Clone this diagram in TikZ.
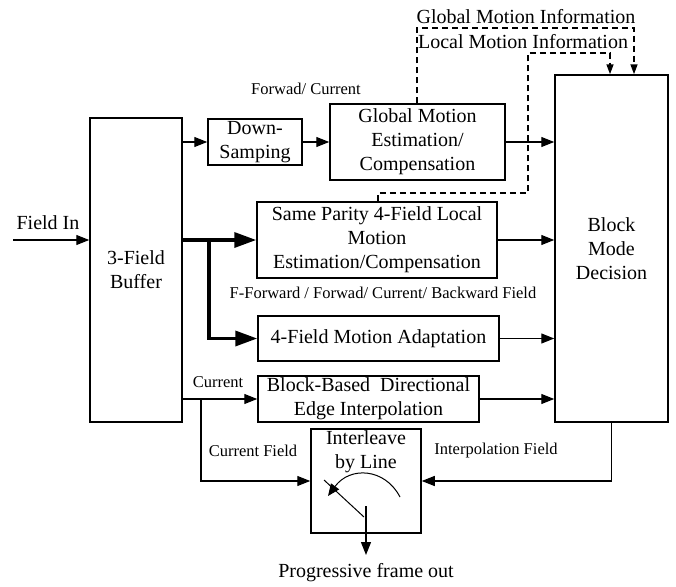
\documentclass[tikz,border=0pt]{standalone}
\usepackage{fontspec}
\setmainfont{Liberation Serif}
\usetikzlibrary{arrows.meta,calc}
\begin{document}
\begin{tikzpicture}[x=1pt,y=-1pt,
  box/.style={draw,line width=1.5pt,inner sep=0pt,align=center,font=\fontsize{20}{24}\selectfont},
  lbl/.style={inner sep=0pt,font=\fontsize{16.5}{20}\selectfont},
  biglbl/.style={inner sep=0pt,align=center,font=\fontsize{20}{24}\selectfont},
  arr/.style={line width=1.3pt,-{Triangle[length=13pt,width=10pt]}},
  thickarr/.style={line width=3.5pt,-{Triangle[length=22pt,width=15pt]}},
  dasharr/.style={line width=1.5pt,dash pattern=on 6pt off 4pt,-{Triangle[length=10pt,width=7pt]}},
]
\useasboundingbox (0,0) rectangle (676,586);

% boxes
\node[box,minimum width=92pt,minimum height=304pt] (buf) at (136,270) {3-Field\\Buffer};
\node[box,minimum width=94pt,minimum height=46pt] (down) at (255,142) {Down-\\Samping};
\node[box,minimum width=175pt,minimum height=76pt] (gme) at (417.5,142) {Global Motion\\Estimation/\\Compensation};
\node[box,minimum width=113pt,minimum height=347pt] (bmd) at (611.5,248.5) {Block\\Mode\\Decision};
\node[box,minimum width=240pt,minimum height=76pt] (sp) at (377,240) {Same Parity 4-Field Local\\Motion\\Estimation/Compensation};
\node[box,minimum width=241pt,minimum height=45pt] (fm) at (378.5,338.5) {4-Field Motion Adaptation};
\node[box,minimum width=221pt,minimum height=46pt] (bb) at (368.5,399) {Block-Based\ \ Directional\\Edge Interpolation};
\node[box,minimum width=110pt,minimum height=104pt] (il) at (366,481) {};
\node[biglbl] (iltext) at (366,452) {Interleave\\by Line};

% labels
\node[biglbl] (fieldin) at (48,223) {Field In};
\node[lbl] (fwdcur) at (306,89) {Forwad/ Current};
\node[lbl] (ffwd) at (383,293) {F-Forward / Forwad/ Current/ Backward Field};
\node[lbl] (cur) at (218,382) {Current};
\node[lbl] (curfield) at (253,451) {Current Field};
\node[lbl] (intfield) at (496,451) {Interpolation Field};
\node[biglbl] (prog) at (366,573) {Progressive frame out};
\node[biglbl] (gmi) at (526,17) {Global Motion Information};
\node[biglbl] (lmi) at (523,42) {Local Motion Information};

% coordinates
\coordinate (fin) at (13,240);
\coordinate (br1) at (209,240);
\coordinate (c1) at (201,399);
\coordinate (g1) at (417,28);
\coordinate (g2) at (634,28);
\coordinate (l1) at (378,193);
\coordinate (l2) at (528,193);
\coordinate (l3) at (528,53);
\coordinate (l4) at (610,53);
\coordinate (o1) at (366,506);
\coordinate (o2) at (366,555);

% connectors
\draw[arr] (fin) -- (fin -| buf.west);
\draw[arr] (buf.east |- down.west) -- (down.west);
\draw[arr] (down.east) -- (gme.west);
\draw[arr] (gme.east) -- (gme.east -| bmd.west);
\draw[thickarr] (buf.east |- sp.west) -- (sp.west);
\draw[thickarr] (br1) |- (fm.west);
\draw[arr] (sp.east) -- (sp.east -| bmd.west);
\draw[arr] (fm.east) -- (fm.east -| bmd.west);
\draw[arr] (buf.east |- bb.west) -- (bb.west);
\draw[arr] (bb.east) -- (bb.east -| bmd.west);
\draw[arr] (c1) |- (il.west);
\draw[arr] (bmd.south) |- (il.east);
\draw[arr] (o1) -- (o2);

% dashed feedback
\draw[dasharr] (gme.north -| g1) -- (g1) -- (g2) -- (g2 |- bmd.north);
\draw[dasharr] (sp.north -| l1) -- (l1) -- (l2) -- (l3) -- (l4) -- (l4 |- bmd.north);

% switch symbol
\draw[line width=1pt] (364,517) -- (324,480);
\draw[line width=1pt,-{Triangle[length=12pt,width=10pt]}] (400,497) .. controls (385,468) and (350,466) .. (328,496);
\end{tikzpicture}
\end{document}
